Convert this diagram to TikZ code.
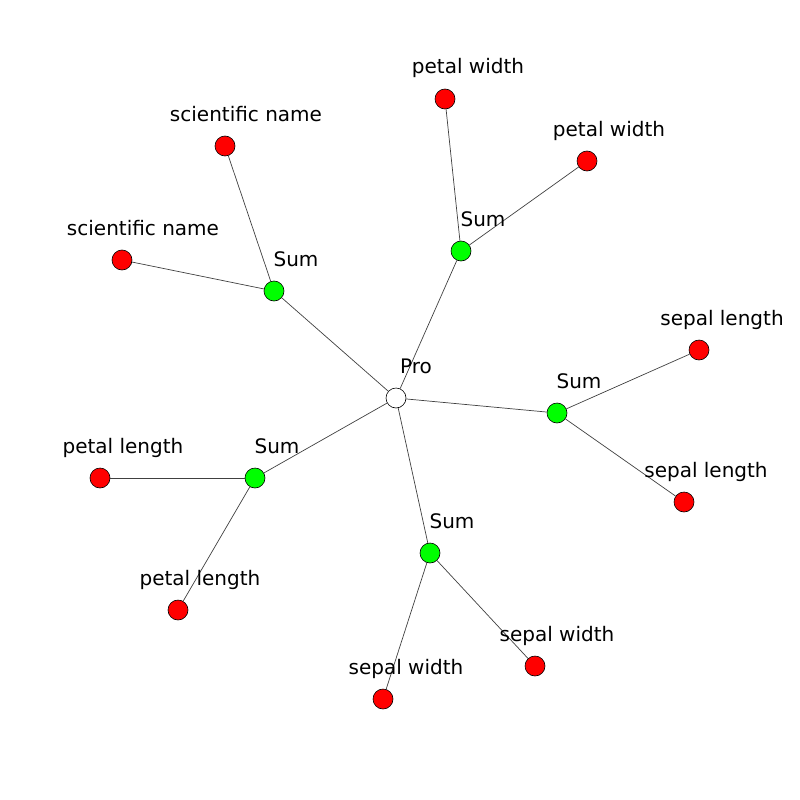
\documentclass[tikz,border=0pt]{standalone}
\usepackage{fontspec}
\setmainfont{DejaVu Sans}
\begin{document}
\begin{tikzpicture}[x=1pt,y=-1pt,
  vtx/.style={circle,draw=black,line width=0.6pt,minimum size=20pt,inner sep=0pt},
  leaf/.style={vtx,fill=red},
  sumv/.style={vtx,fill=green},
  prov/.style={vtx,fill=white},
  lbl/.style={anchor=base,inner sep=0pt,font=\fontsize{20}{24}\selectfont},
  edge/.style={draw=black!75,line width=0.7pt}]
\useasboundingbox (0,0) rectangle (800,800);
\node[prov] (pro) at (396,398) {};
\node[sumv] (s1) at (274,291) {};
\node[sumv] (s2) at (461,251) {};
\node[sumv] (s3) at (557,413) {};
\node[sumv] (s4) at (255,478) {};
\node[sumv] (s5) at (430,553) {};
\node[leaf] (l1) at (225,146) {};
\node[leaf] (l2) at (122,260) {};
\node[leaf] (l3) at (445,99) {};
\node[leaf] (l4) at (587,161) {};
\node[leaf] (l5) at (699,350) {};
\node[leaf] (l6) at (684,502) {};
\node[leaf] (l7) at (100,478) {};
\node[leaf] (l8) at (178,610) {};
\node[leaf] (l9) at (535,666) {};
\node[leaf] (l10) at (383,699) {};
\foreach \a/\b in {pro/s1,pro/s2,pro/s3,pro/s4,pro/s5,s1/l1,s1/l2,s2/l3,s2/l4,s3/l5,s3/l6,s4/l7,s4/l8,s5/l9,s5/l10}
  \draw[edge] (\a) -- (\b);
\node[lbl] (tpro) at ([shift={(20,-25)}]pro.center) {Pro};
\node[lbl] (ts1) at ([shift={(22,-25)}]s1.center) {Sum};
\node[lbl] (ts2) at ([shift={(22,-25)}]s2.center) {Sum};
\node[lbl] (ts3) at ([shift={(22,-25)}]s3.center) {Sum};
\node[lbl] (ts4) at ([shift={(22,-25)}]s4.center) {Sum};
\node[lbl] (ts5) at ([shift={(22,-25)}]s5.center) {Sum};
\node[lbl] (tl1) at ([shift={(21,-25)}]l1.center) {scientific name};
\node[lbl] (tl2) at ([shift={(21,-25)}]l2.center) {scientific name};
\node[lbl] (tl3) at ([shift={(23,-25)}]l3.center) {petal width};
\node[lbl] (tl4) at ([shift={(22,-25)}]l4.center) {petal width};
\node[lbl] (tl5) at ([shift={(23,-25)}]l5.center) {sepal length};
\node[lbl] (tl6) at ([shift={(22,-25)}]l6.center) {sepal length};
\node[lbl] (tl7) at ([shift={(23,-25)}]l7.center) {petal length};
\node[lbl] (tl8) at ([shift={(22,-25)}]l8.center) {petal length};
\node[lbl] (tl9) at ([shift={(22,-25)}]l9.center) {sepal width};
\node[lbl] (tl10) at ([shift={(23,-25)}]l10.center) {sepal width};
\end{tikzpicture}
\end{document}
